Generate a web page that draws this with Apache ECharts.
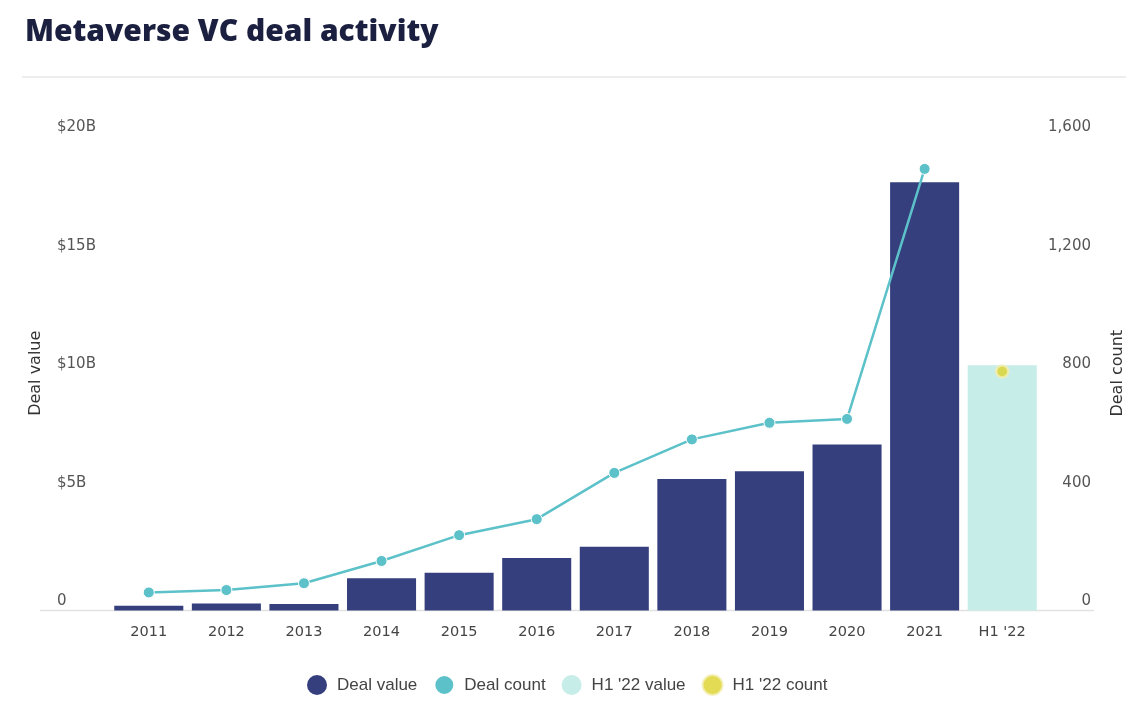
<!DOCTYPE html>
<html>
<head>
<meta charset="utf-8">
<script src="https://cdn.jsdelivr.net/npm/echarts@6/dist/echarts.min.js"></script>
<style>
  html, body { margin: 0; padding: 0; background: #ffffff; }
  #chart { width: 1126px; height: 707px; }
</style>
</head>
<body>
<div id="chart"></div>
<script>
// Years on the category axis
const categories = ['2011', '2012', '2013', '2014', '2015', '2016', '2017', '2018', '2019', '2020', '2021', "H1 '22"];
// Total deal value per year, billions of dollars (full years)
const dealValue = [0.2, 0.29, 0.27, 1.36, 1.59, 2.21, 2.69, 5.54, 5.87, 7.0, 18.05, null];
// Number of deals per year (full years)
const dealCount = [61, 69, 92, 167, 254, 308, 464, 577, 633, 646, 1489, null];
// First half of 2022
const h1Value = [null, null, null, null, null, null, null, null, null, null, null, 10.34];
const h1Count = [null, null, null, null, null, null, null, null, null, null, null, 806];
// Axis ticks
const valueTicks = [0, 5, 10, 15, 20];
const countTicks = [0, 400, 800, 1200, 1600];

const NAVY = '#353f7d';
const TEAL = '#5cc1c9';
const MINT = '#c6ede8';
const YELLOW = '#ddd22b';
const tickFont = { fontFamily: 'DejaVu Sans', fontSize: 15, color: '#555555' };
const nameFont = { fontFamily: 'DejaVu Sans', fontSize: 16, color: '#333333' };

const chart = echarts.init(document.getElementById('chart'), null, { renderer: 'canvas' });

chart.setOption({
  animation: false,
  backgroundColor: '#ffffff',
  title: {
    text: 'Metaverse VC deal activity',
    left: 20,
    top: 12,
    textStyle: { fontFamily: 'Open Sans', fontWeight: 800, fontSize: 30, color: '#1b2040' }
  },
  graphic: [
    { type: 'line', shape: { x1: 22, y1: 77, x2: 1126, y2: 77 }, style: { stroke: '#dcdcdc', lineWidth: 1 } },
    { type: 'line', shape: { x1: 40, y1: 610.5, x2: 1094, y2: 610.5 }, style: { stroke: '#e2e2e2', lineWidth: 1.5 }, z: 0 }
  ],
  legend: {
    top: 669,
    left: 302,
    icon: 'circle',
    itemWidth: 20,
    itemHeight: 20,
    itemGap: 16,
    textStyle: { fontFamily: 'Liberation Sans', fontSize: 17, color: '#444444', padding: [0, 0, 0, 5] },
    data: ['Deal value', 'Deal count', "H1 '22 value", "H1 '22 count"]
  },
  grid: { left: 110, right: 85, top: 136, bottom: 96.5, outerBoundsMode: 'none', containLabel: false },
  xAxis: {
    type: 'category',
    data: categories,
    axisLine: { show: false },
    axisTick: { show: false },
    axisLabel: { fontFamily: 'DejaVu Sans', fontSize: 14.5, color: '#444444', margin: 14 }
  },
  yAxis: [
    {
      type: 'value',
      min: valueTicks[0],
      max: valueTicks[valueTicks.length - 1],
      interval: 5,
      name: 'Deal value',
      nameLocation: 'middle',
      nameRotate: 90,
      nameGap: 66,
      nameTextStyle: nameFont,
      splitLine: { show: false },
      axisLine: { show: false },
      axisTick: { show: false },
      axisLabel: Object.assign({}, tickFont, {
        align: 'left',
        margin: 53,
        verticalAlign: 'bottom',
        lineHeight: 18,
        formatter: v => (v === 0 ? '0' : '$' + v + 'B')
      })
    },
    {
      type: 'value',
      min: countTicks[0],
      max: countTicks[countTicks.length - 1],
      interval: 400,
      name: 'Deal count',
      nameLocation: 'middle',
      nameRotate: 90,
      nameGap: 69,
      nameTextStyle: nameFont,
      splitLine: { show: false },
      axisLine: { show: false },
      axisTick: { show: false },
      axisLabel: Object.assign({}, tickFont, {
        align: 'right',
        margin: 50,
        verticalAlign: 'bottom',
        lineHeight: 18,
        formatter: v => v.toLocaleString('en-US')
      })
    }
  ],
  series: [
    {
      name: 'Deal value',
      type: 'bar',
      stack: 'value',
      data: dealValue,
      barCategoryGap: '11%',
      itemStyle: { color: NAVY },
      z: 2
    },
    {
      name: "H1 '22 value",
      type: 'bar',
      stack: 'value',
      data: h1Value,
      itemStyle: { color: MINT },
      z: 2
    },
    {
      name: 'Deal count',
      type: 'line',
      yAxisIndex: 1,
      data: dealCount,
      symbol: 'circle',
      symbolSize: 11,
      lineStyle: { color: TEAL, width: 2.5 },
      itemStyle: { color: TEAL, borderColor: '#ffffff', borderWidth: 1 },
      z: 5
    },
    {
      name: "H1 '22 count",
      type: 'scatter',
      yAxisIndex: 1,
      data: h1Count,
      symbol: 'circle',
      symbolSize: 12,
      itemStyle: { color: YELLOW, borderColor: '#f3efb4', borderWidth: 2.5 },
      z: 5
    }
  ]
});
</script>
</body>
</html>
